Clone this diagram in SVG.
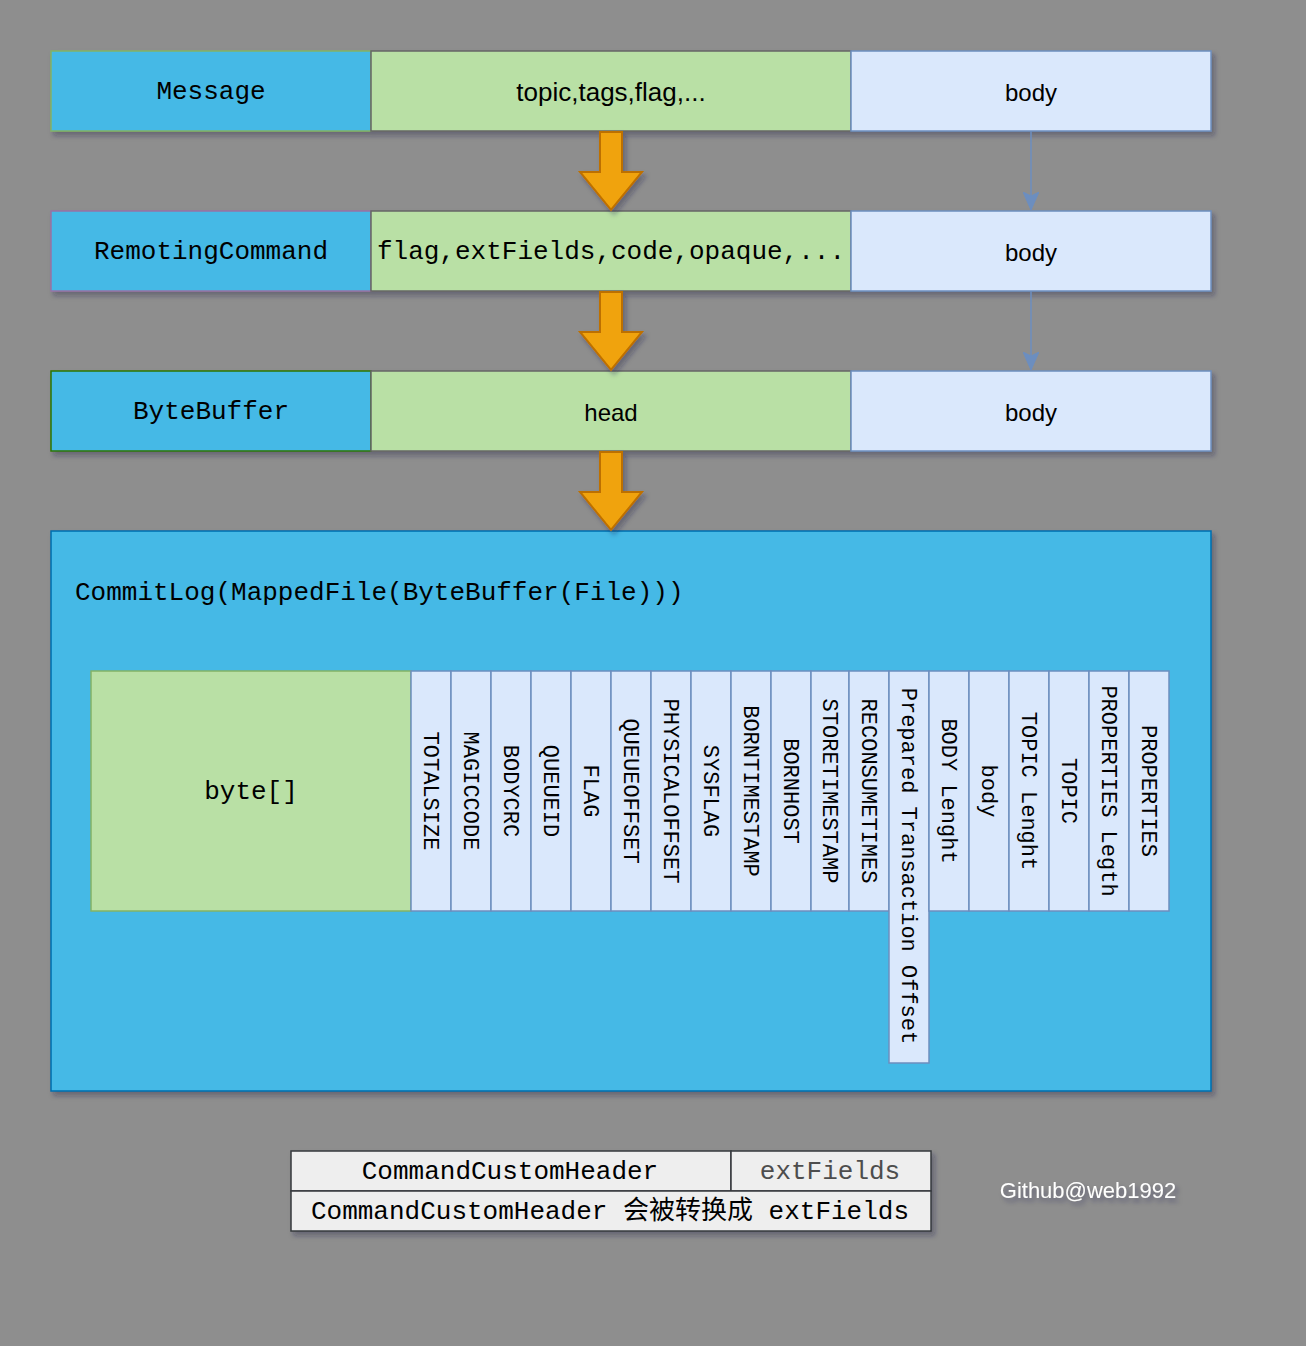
<svg xmlns="http://www.w3.org/2000/svg" width="1306" height="1346" viewBox="0 0 1306 1346">
<defs>
<filter id="sh" x="-10%" y="-10%" width="130%" height="140%">
<feDropShadow dx="3" dy="4" stdDeviation="2.5" flood-color="#202040" flood-opacity="0.35"/>
</filter>
<marker id="ah" viewBox="0 0 18 16" refX="18" refY="8" markerWidth="18" markerHeight="16" markerUnits="userSpaceOnUse" orient="auto">
<path d="M0,0 L18,8 L0,16 L4,8 Z" fill="#6c8ebf" stroke="#6c8ebf" stroke-width="1"/>
</marker>
</defs>
<style>
.mono{font-family:"Liberation Mono","Noto Sans CJK SC",monospace;font-size:26px;fill:#000}
.sans{font-family:"Liberation Sans",Arial,sans-serif;font-size:24px;fill:#000}
.vt{font-family:"Liberation Mono",monospace;font-size:22px;fill:#000}
.blue{fill:#45b9e6}
.green{fill:#b9e0a5;stroke:#666666;stroke-width:1.5}
.body{fill:#dae8fc;stroke:#6c8ebf;stroke-width:1.5}
.col{fill:#dae8fc;stroke:#6c8ebf;stroke-width:1.5}
.arrow{fill:#f0a30a;stroke:#bd7000;stroke-width:2}
.thin{stroke:#6c8ebf;stroke-width:1.5;fill:none}
.tbl{fill:#eeeeee;stroke:#36393d;stroke-width:1.5}
</style>
<rect x="0" y="0" width="1306" height="1346" fill="#8e8e8e"/>

<g id="row-message" filter="url(#sh)">
<rect x="51" y="51" width="320" height="80" class="blue" stroke="#82b366" stroke-width="1.5"/>
<rect x="371" y="51" width="480" height="80" class="green"/>
<rect x="851" y="51" width="360" height="80" class="body"/>
</g>
<g id="row-message-text">
<text x="211" y="92" class="mono" text-anchor="middle" dominant-baseline="central">Message</text>
<text x="611" y="92" class="sans" style="font-size:26px" text-anchor="middle" dominant-baseline="central">topic,tags,flag,...</text>
<text x="1031" y="92" class="sans" text-anchor="middle" dominant-baseline="central">body</text>
</g>

<g id="row-remoting" filter="url(#sh)">
<rect x="51" y="211" width="320" height="80" class="blue" stroke="#9673a6" stroke-width="1.5"/>
<rect x="371" y="211" width="480" height="80" class="green"/>
<rect x="851" y="211" width="360" height="80" class="body"/>
</g>
<g id="row-remoting-text">
<text x="211" y="252" class="mono" text-anchor="middle" dominant-baseline="central">RemotingCommand</text>
<text x="611" y="252" class="mono" text-anchor="middle" dominant-baseline="central">flag,extFields,code,opaque,...</text>
<text x="1031" y="252" class="sans" text-anchor="middle" dominant-baseline="central">body</text>
</g>

<g id="row-bytebuffer" filter="url(#sh)">
<rect x="51" y="371" width="320" height="80" class="blue" stroke="#2d7600" stroke-width="1.5"/>
<rect x="371" y="371" width="480" height="80" class="green"/>
<rect x="851" y="371" width="360" height="80" class="body"/>
</g>
<g id="row-bytebuffer-text">
<text x="211" y="412" class="mono" text-anchor="middle" dominant-baseline="central">ByteBuffer</text>
<text x="611" y="412" class="sans" text-anchor="middle" dominant-baseline="central">head</text>
<text x="1031" y="412" class="sans" text-anchor="middle" dominant-baseline="central">body</text>
</g>

<g id="commitlog">
<rect x="51" y="531" width="1160" height="560" class="blue" stroke="#006eaf" stroke-width="1.5" filter="url(#sh)"/>
<text x="75" y="593" class="mono" dominant-baseline="central">CommitLog(MappedFile(ByteBuffer(File)))</text>
</g>

<g id="byte-array">
<rect x="91" y="671" width="320" height="240" fill="#b9e0a5" stroke="#82b366" stroke-width="1.5"/>
<text x="251" y="792" class="mono" text-anchor="middle" dominant-baseline="central">byte[]</text>
</g>

<g id="columns">
<rect x="411" y="671" width="40" height="240" class="col"/>
<rect x="451" y="671" width="40" height="240" class="col"/>
<rect x="491" y="671" width="40" height="240" class="col"/>
<rect x="531" y="671" width="40" height="240" class="col"/>
<rect x="571" y="671" width="40" height="240" class="col"/>
<rect x="611" y="671" width="40" height="240" class="col"/>
<rect x="651" y="671" width="40" height="240" class="col"/>
<rect x="691" y="671" width="40" height="240" class="col"/>
<rect x="731" y="671" width="40" height="240" class="col"/>
<rect x="771" y="671" width="40" height="240" class="col"/>
<rect x="811" y="671" width="38" height="240" class="col"/>
<rect x="849" y="671" width="40" height="240" class="col"/>
<rect x="889" y="671" width="40" height="392" class="col"/>
<rect x="929" y="671" width="40" height="240" class="col"/>
<rect x="969" y="671" width="40" height="240" class="col"/>
<rect x="1009" y="671" width="40" height="240" class="col"/>
<rect x="1049" y="671" width="40" height="240" class="col"/>
<rect x="1089" y="671" width="40" height="240" class="col"/>
<rect x="1129" y="671" width="40" height="240" class="col"/>
<g class="vt">
<text class="vt" transform="translate(429,791) rotate(90)" text-anchor="middle" dominant-baseline="central">TOTALSIZE</text>
<text class="vt" transform="translate(469,791) rotate(90)" text-anchor="middle" dominant-baseline="central">MAGICCODE</text>
<text class="vt" transform="translate(509,791) rotate(90)" text-anchor="middle" dominant-baseline="central">BODYCRC</text>
<text class="vt" transform="translate(549,791) rotate(90)" text-anchor="middle" dominant-baseline="central">QUEUEID</text>
<text class="vt" transform="translate(589,791) rotate(90)" text-anchor="middle" dominant-baseline="central">FLAG</text>
<text class="vt" transform="translate(629,791) rotate(90)" text-anchor="middle" dominant-baseline="central">QUEUEOFFSET</text>
<text class="vt" transform="translate(669,791) rotate(90)" text-anchor="middle" dominant-baseline="central">PHYSICALOFFSET</text>
<text class="vt" transform="translate(709,791) rotate(90)" text-anchor="middle" dominant-baseline="central">SYSFLAG</text>
<text class="vt" transform="translate(749,791) rotate(90)" text-anchor="middle" dominant-baseline="central">BORNTIMESTAMP</text>
<text class="vt" transform="translate(789,791) rotate(90)" text-anchor="middle" dominant-baseline="central">BORNHOST</text>
<text class="vt" transform="translate(828,791) rotate(90)" text-anchor="middle" dominant-baseline="central">STORETIMESTAMP</text>
<text class="vt" transform="translate(867,791) rotate(90)" text-anchor="middle" dominant-baseline="central">RECONSUMETIMES</text>
<text class="vt" transform="translate(907,866) rotate(90)" text-anchor="middle" dominant-baseline="central">Prepared Transaction Offset</text>
<text class="vt" transform="translate(947,791) rotate(90)" text-anchor="middle" dominant-baseline="central">BODY Lenght</text>
<text class="vt" transform="translate(987,791) rotate(90)" text-anchor="middle" dominant-baseline="central">body</text>
<text class="vt" transform="translate(1027,791) rotate(90)" text-anchor="middle" dominant-baseline="central">TOPIC Lenght</text>
<text class="vt" transform="translate(1067,791) rotate(90)" text-anchor="middle" dominant-baseline="central">TOPIC</text>
<text class="vt" transform="translate(1107,791) rotate(90)" text-anchor="middle" dominant-baseline="central">PROPERTIES Legth</text>
<text class="vt" transform="translate(1147,791) rotate(90)" text-anchor="middle" dominant-baseline="central">PROPERTIES</text>
</g>
</g>

<g id="connectors">
<path class="arrow" filter="url(#sh)" d="M600,132 L622,132 L622,172 L642,172 L611,210 L580,172 L600,172 Z"/>
<path class="arrow" filter="url(#sh)" d="M600,292 L622,292 L622,332 L642,332 L611,370 L580,332 L600,332 Z"/>
<path class="arrow" filter="url(#sh)" d="M600,452 L622,452 L622,492 L642,492 L611,530 L580,492 L600,492 Z"/>
<line class="thin" x1="1031" y1="131" x2="1031" y2="210" marker-end="url(#ah)"/>
<line class="thin" x1="1031" y1="291" x2="1031" y2="370" marker-end="url(#ah)"/>
</g>

<g id="legend-table" filter="url(#sh)">
<rect x="291" y="1151" width="440" height="40" class="tbl"/>
<rect x="731" y="1151" width="200" height="40" class="tbl"/>
<rect x="291" y="1191" width="640" height="40" class="tbl"/>
</g>
<g id="legend-text">
<text x="510" y="1172" class="mono" text-anchor="middle" dominant-baseline="central">CommandCustomHeader</text>
<text x="830" y="1172" class="mono" style="fill:#4d4d4d" text-anchor="middle" dominant-baseline="central">extFields</text>
<text x="610" y="1212" class="mono" text-anchor="middle" dominant-baseline="central">CommandCustomHeader 会被转换成 extFields</text>
</g>

<g id="github">
<text x="1088" y="1190" class="sans" style="fill:#ffffff;font-size:22px" text-anchor="middle" dominant-baseline="central" filter="url(#sh)">Github@web1992</text>
</g>
</svg>
